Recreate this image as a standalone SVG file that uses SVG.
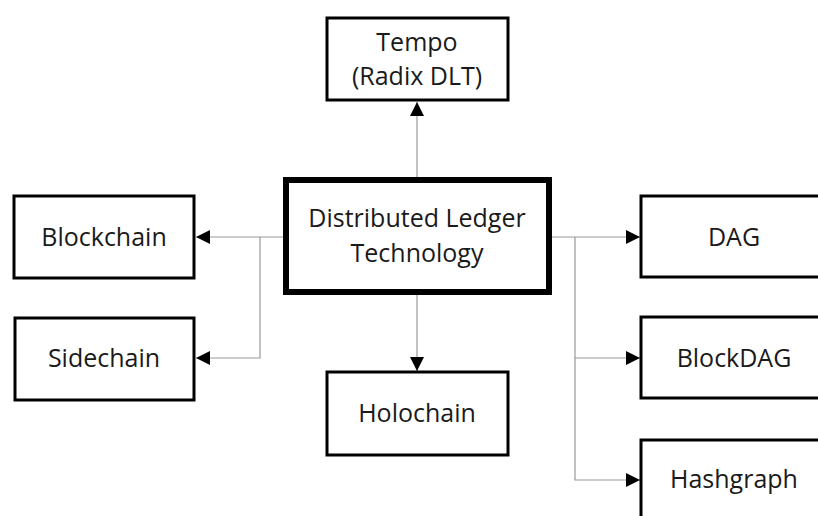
<svg xmlns="http://www.w3.org/2000/svg" width="818" height="516" viewBox="0 0 818 516">
<style>
.box{fill:#fff;stroke:#000;stroke-width:3}
.main{fill:#fff;stroke:#000;stroke-width:6}
.lbl{font-family:"Open Sans","Liberation Sans",sans-serif;font-size:25px;fill:#1a1a1a;text-anchor:middle}
.con{fill:none;stroke:#999;stroke-width:1.2}
</style>
<defs>
<marker id="ah" markerUnits="userSpaceOnUse" markerWidth="14" markerHeight="14" viewBox="0 0 12 12" refX="12" refY="6" orient="auto">
<path d="M0,0 L12,6 L0,12 Z" fill="#000"/>
</marker>
</defs>
<g id="connectors">
<line class="con" x1="417" y1="177" x2="417" y2="102" marker-end="url(#ah)"/>
<line class="con" x1="417" y1="295" x2="417" y2="371" marker-end="url(#ah)"/>
<line class="con" x1="283" y1="237" x2="196" y2="237" marker-end="url(#ah)"/>
<polyline class="con" points="260,237 260,358 196,358" marker-end="url(#ah)"/>
<line class="con" x1="552" y1="237" x2="640" y2="237" marker-end="url(#ah)"/>
<polyline class="con" points="575,237 575,358 640,358" marker-end="url(#ah)"/>
<polyline class="con" points="575,358 575,480 640,480" marker-end="url(#ah)"/>
</g>
<g id="tempo">
<rect class="box" x="327" y="18" width="181" height="82"/>
<text class="lbl" x="417" y="51">Tempo</text>
<text class="lbl" x="417" y="85">(Radix DLT)</text>
</g>
<g id="dlt">
<rect class="main" x="286" y="180" width="263" height="112"/>
<text class="lbl" x="417" y="227">Distributed Ledger</text>
<text class="lbl" x="417" y="262">Technology</text>
</g>
<g id="blockchain">
<rect class="box" x="14" y="196" width="180" height="82"/>
<text class="lbl" x="104" y="246">Blockchain</text>
</g>
<g id="sidechain">
<rect class="box" x="15" y="318" width="179" height="82"/>
<text class="lbl" x="104" y="367">Sidechain</text>
</g>
<g id="holochain">
<rect class="box" x="327" y="372" width="181" height="83"/>
<text class="lbl" x="417" y="422">Holochain</text>
</g>
<g id="dag">
<rect class="box" x="641" y="196" width="190" height="81"/>
<text class="lbl" x="734" y="246">DAG</text>
</g>
<g id="blockdag">
<rect class="box" x="641" y="317" width="190" height="81"/>
<text class="lbl" x="734" y="367">BlockDAG</text>
</g>
<g id="hashgraph">
<rect class="box" x="641" y="440" width="190" height="90"/>
<text class="lbl" x="734" y="488">Hashgraph</text>
</g>
</svg>
